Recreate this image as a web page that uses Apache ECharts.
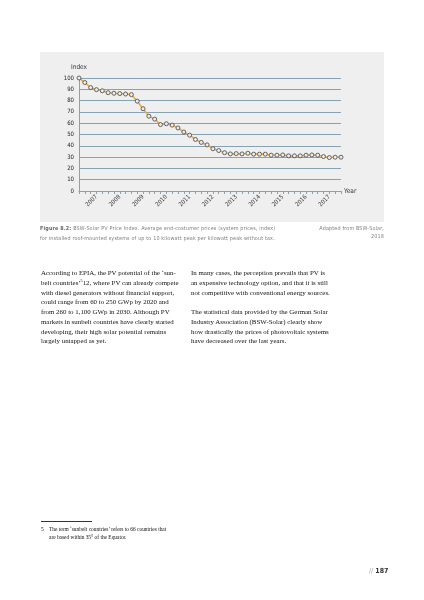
<!DOCTYPE html>
<html>
<head>
<meta charset="utf-8">
<script src="https://cdn.jsdelivr.net/npm/echarts@6/dist/echarts.min.js"></script>
<style>
  html, body { margin:0; padding:0; background:#fff; }
  #page { position:relative; width:424px; height:600px; overflow:hidden; }
  #chart { position:absolute; left:0; top:0; width:424px; height:600px; }
  .t { position:absolute; white-space:nowrap; }
  .cap { font-family:'DejaVu Sans Condensed','Liberation Sans Narrow','DejaVu Sans',sans-serif; font-size:5.4px; color:#808080; letter-spacing:0.15px; }
  .body { font-family:'Liberation Serif','DejaVu Serif',serif; font-size:6.9px; color:#111; line-height:9.75px; }
  .fn { font-family:'Liberation Serif','DejaVu Serif',serif; font-size:5.4px; color:#111; line-height:8px; }
  sup { font-size:60%; vertical-align:3px; line-height:0; }
</style>
</head>
<body>
<div id="page">
  <div id="chart"></div>

  <div class="t cap" style="left:40px; top:225px;"><b style="color:#666">Figure 8.2:</b> BSW-Solar PV Price Index. Average end-costumer prices (system prices, index)</div>
  <div class="t cap" style="left:40px; top:235px;">for installed roof-mounted systems of up to 10 kilowatt peak per kilowatt peak without tax.</div>
  <div class="t cap" style="right:40px; top:225px; text-align:right;">Adapted from BSW-Solar,<br><span style="line-height:10px">2018</span></div>

  <div class="t body" style="left:41px; top:268px;">
    According to EPIA, the PV potential of the ‘sun-<br>
    belt countries’<sup>5</sup>12, where PV can already compete<br>
    with diesel generators without financial support,<br>
    could range from 60 to 250 GWp by 2020 and<br>
    from 260 to 1,100 GWp in 2030. Although PV<br>
    markets in sunbelt countries have clearly started<br>
    developing, their high solar potential remains<br>
    largely untapped as yet.
  </div>
  <div class="t body" style="left:191px; top:268px;">
    In many cases, the perception prevails that PV is<br>
    an expensive technology option, and that it is still<br>
    not competitive with conventional energy sources.<br>
    <span style="display:block;height:9.75px"></span>
    The statistical data provided by the German Solar<br>
    Industry Association (BSW-Solar) clearly show<br>
    how drastically the prices of photovoltaic systems<br>
    have decreased over the last years.
  </div>

  <div style="position:absolute; left:41px; top:521px; width:51px; height:0; border-top:0.6px solid #333;"></div>
  <div class="t fn" style="left:41px; top:525px;">5</div>
  <div class="t fn" style="left:49px; top:525px;">The term ‘sunbelt countries’ refers to 66 countries that<br>are based within 35° of the Equator.</div>

  <div class="t" style="left:369px; top:567px; font-family:'DejaVu Sans Condensed','Liberation Sans Narrow',sans-serif; font-size:7px;"><span style="color:#aaa">//</span> <b style="color:#333">187</b></div>
</div>
<script>
// Quarterly categories (2006 Q2 – 2017 Q3)
var quarters = [
  '2006 Q2','2006 Q3','2006 Q4',
  '2007 Q1','2007 Q2','2007 Q3','2007 Q4',
  '2008 Q1','2008 Q2','2008 Q3','2008 Q4',
  '2009 Q1','2009 Q2','2009 Q3','2009 Q4',
  '2010 Q1','2010 Q2','2010 Q3','2010 Q4',
  '2011 Q1','2011 Q2','2011 Q3','2011 Q4',
  '2012 Q1','2012 Q2','2012 Q3','2012 Q4',
  '2013 Q1','2013 Q2','2013 Q3','2013 Q4',
  '2014 Q1','2014 Q2','2014 Q3','2014 Q4',
  '2015 Q1','2015 Q2','2015 Q3','2015 Q4',
  '2016 Q1','2016 Q2','2016 Q3','2016 Q4',
  '2017 Q1','2017 Q2','2017 Q3'
];
// BSW-Solar PV price index values
var priceIndex = [
  100, 96, 91.5, 89.7, 88.7, 87, 86.5, 86.2, 85.8, 85.3,
  79.5, 72.8, 66.2, 63.6, 58.8, 59.5, 58.3, 55.8, 52.2, 49.4,
  45.6, 43, 40.8, 37.4, 35.8, 33.9, 32.8, 33.1, 32.8, 33.4,
  32.6, 32.6, 32.6, 31.7, 31.7, 31.9, 31.1, 31.1, 31.1, 31.7,
  31.9, 31.7, 30.5, 29.6, 29.9, 29.9
];
// Year tick labels shown at Q1 of each year
var yearLabels = ['2007','2008','2009','2010','2011','2012','2013','2014','2015','2016','2017'];
var yTicks = [0,10,20,30,40,50,60,70,80,90,100];

var axisBlue = '#86a3b4';
var lab = {fontFamily:"'DejaVu Sans Condensed','Liberation Sans Narrow',sans-serif", fontSize:6, color:'#333'};

var chart = echarts.init(document.getElementById('chart'), null, {renderer:'canvas'});
chart.setOption({
  animation:false,
  backgroundColor:'#ffffff',
  graphic:[{type:'rect', shape:{x:40,y:52,width:344,height:170}, style:{fill:'#efefef'}, z:-10, silent:true}],
  grid:{left:79, top:78, width:262, height:113, containLabel:false},
  xAxis:{
    type:'category', data:quarters, boundaryGap:false,
    name:'Year', nameLocation:'end', nameGap:3,
    nameTextStyle:Object.assign({}, lab, {fontSize:6.5, color:'#333', verticalAlign:'middle'}),
    axisLine:{lineStyle:{color:axisBlue, width:1}},
    axisTick:{show:true, interval:0, length:3, lineStyle:{color:axisBlue, width:1}},
    axisLabel:Object.assign({}, lab, {
      rotate:45, margin:5,
      interval:function(i, v){ return yearLabels.indexOf(v.slice(0,4)) >= 0 && v.slice(5) === 'Q1'; },
      formatter:function(v){ return v.slice(0,4); }
    }),
    splitLine:{show:false}
  },
  yAxis:{
    type:'value', min:0, max:100, interval:10,
    name:'Index', nameLocation:'end', nameGap:7,
    nameTextStyle:Object.assign({}, lab, {fontSize:6.5, color:'#333', align:'center'}),
    axisLine:{show:true, lineStyle:{color:axisBlue, width:1}},
    axisTick:{show:false},
    axisLabel:Object.assign({}, lab, {margin:5, color:'#222',
      formatter:function(v){ return yTicks.indexOf(v) >= 0 ? String(v) : ''; }}),
    splitLine:{show:true, lineStyle:{color:axisBlue, width:1.1}}
  },
  series:[{
    type:'line', data:priceIndex,
    symbol:'circle', symbolSize:4, showSymbol:true, showAllSymbol:true,
    lineStyle:{color:'#f0a93a', width:1.6},
    itemStyle:{color:'#ececec', borderColor:'#555', borderWidth:0.9},
    z:5
  }]
});
</script>
</body>
</html>
